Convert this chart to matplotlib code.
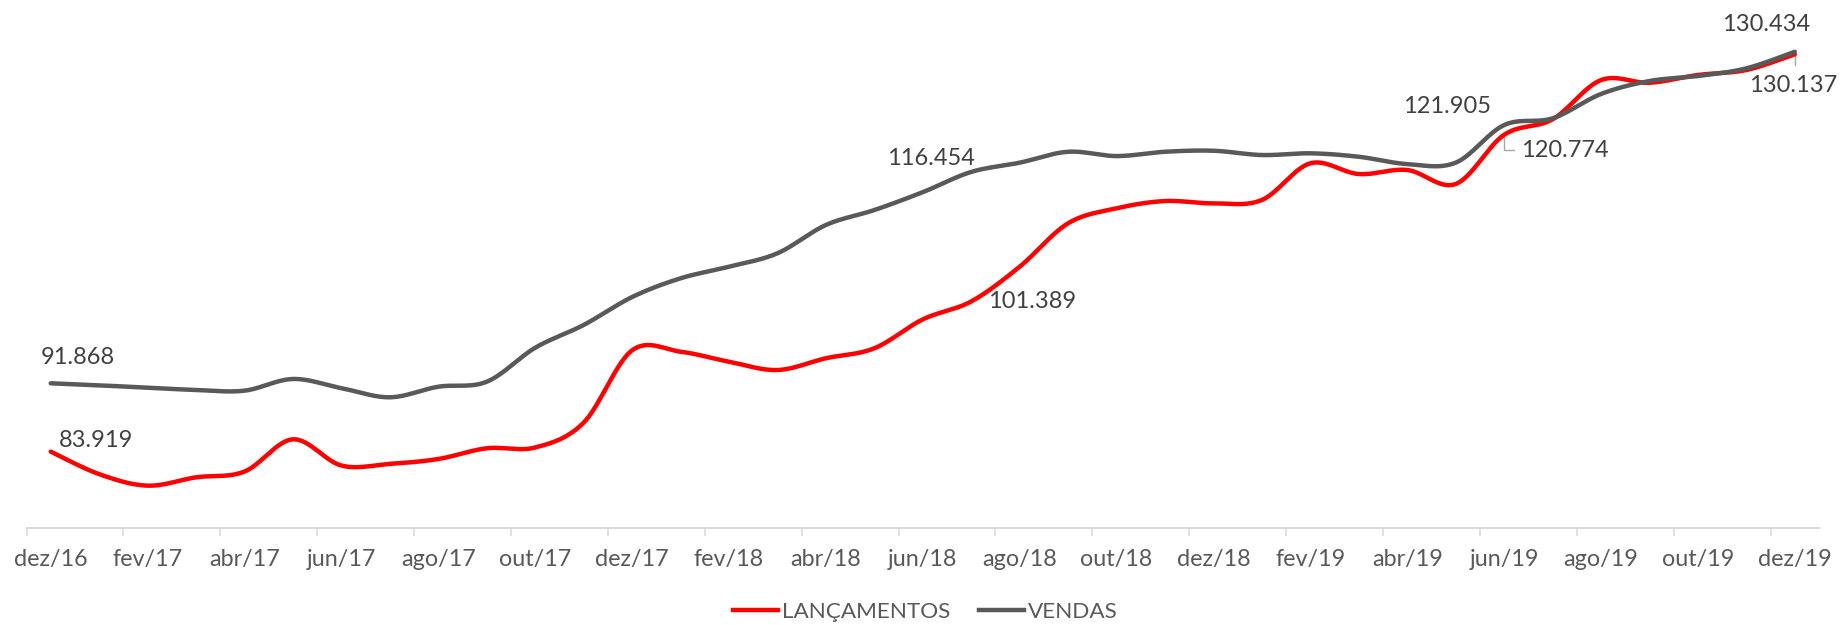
import numpy as np
import matplotlib
matplotlib.use("Agg")
import matplotlib.pyplot as plt
from matplotlib.lines import Line2D

plt.rcParams['font.family'] = ['Lato', 'DejaVu Sans']

months = ["dez/16", "jan/17", "fev/17", "mar/17", "abr/17", "mai/17", "jun/17", "jul/17",
          "ago/17", "set/17", "out/17", "nov/17", "dez/17", "jan/18", "fev/18", "mar/18",
          "abr/18", "mai/18", "jun/18", "jul/18", "ago/18", "set/18", "out/18", "nov/18",
          "dez/18", "jan/19", "fev/19", "mar/19", "abr/19", "mai/19", "jun/19", "jul/19",
          "ago/19", "set/19", "out/19", "nov/19", "dez/19"]

lancamentos = [83.919, 81.3, 79.96, 80.93, 81.6, 85.35, 82.3, 82.5, 83.06, 84.31,
               84.4, 87.29, 95.7, 95.54, 94.38, 93.41, 94.78, 95.94, 99.3, 101.389,
               105.43, 110.48, 112.22, 113.07, 112.80, 113.19, 117.46, 116.21, 116.68, 115.05,
               120.774, 122.57, 127.14, 126.83, 127.73, 128.31, 130.137]

vendas = [91.868, 91.63, 91.36, 91.09, 91.01, 92.37, 91.3, 90.24, 91.47, 92.05,
          96.0, 98.65, 101.9, 104.08, 105.43, 106.99, 110.28, 112.02, 114.1, 116.454,
          117.53, 118.80, 118.30, 118.80, 118.92, 118.42, 118.62, 118.22, 117.37, 117.53,
          121.905, 122.69, 125.52, 127.03, 127.61, 128.50, 130.434]

series_names = ["LANÇAMENTOS", "VENDAS"]
series_colors = ["#FF0000", "#595959"]

# labelled points: (series index, month index, offset px)
labels = [
    (1, 0, (27, 26)), (0, 0, (45, 11)),
    (1, 19, (-40, 13)), (0, 19, (61, 0)),
    (1, 30, (-57, 19)), (0, 30, (61, -16)),
    (1, 36, (-29, 27)), (0, 36, (-2, -31)),
]


def smooth(y, n=30):
    """Excel-like Catmull-Rom smoothing through the data points."""
    y = np.asarray(y, float)
    x = np.arange(len(y), dtype=float)
    P = np.column_stack([x, y])
    Pe = np.vstack([P[0], P, P[-1]])
    out = []
    t = np.linspace(0, 1, n, endpoint=False)[:, None]
    for i in range(len(P) - 1):
        p0, p1, p2, p3 = Pe[i], Pe[i + 1], Pe[i + 2], Pe[i + 3]
        c1 = p1 + (p2 - p0) / 6.0
        c2 = p2 - (p3 - p1) / 6.0
        seg = ((1 - t) ** 3) * p1 + 3 * ((1 - t) ** 2) * t * c1 + 3 * (1 - t) * t ** 2 * c2 + t ** 3 * p2
        out.append(seg)
    out.append(P[-1][None, :])
    out = np.vstack(out)
    return out[:, 0], out[:, 1]


fig = plt.figure(figsize=(18.41, 6.25), dpi=100)
ax = fig.add_axes([26.5 / 1841, 1 - 528.3 / 625, (1819 - 26.5) / 1841, (528.3 - 12.5) / 625])

data = [lancamentos, vendas]
for vals, name, col in zip(data, series_names, series_colors):
    xs, ys = smooth(vals)
    ax.plot(xs, ys, color=col, lw=3.2, solid_capstyle='round', label=name)

for si, mi, (dx, dy) in labels:
    val = data[si][mi]
    txt = f"{val:.3f}"
    ax.annotate(txt, xy=(mi, val), xytext=(dx, dy), textcoords='offset pixels',
                ha='center', va='center', fontsize=17, color='#404040')

# leader lines for the two lower labels at jun/19 and dez/19
lx = [30, 30, 30 + 10 / 48.45]
ly = [lancamentos[30] - 0.1, lancamentos[30] - 15 / 8.598, lancamentos[30] - 15 / 8.598]
ax.plot(lx, ly, color='#A6A6A6', lw=1.0, zorder=1)
ax.plot([36, 36], [lancamentos[36] - 0.1, lancamentos[36] - 11 / 8.598], color='#A6A6A6', lw=1.0, zorder=1)

ax.set_xlim(-0.5, len(months) - 0.5)
ax.set_ylim(75, 135)

for s in ['left', 'right', 'top']:
    ax.spines[s].set_visible(False)
ax.spines['bottom'].set_color('#D9D9D9')
ax.spines['bottom'].set_linewidth(1.4)
ax.yaxis.set_visible(False)

ax.set_xticks(np.arange(-0.5, len(months), 2))
ax.set_xticklabels([])
ax.tick_params(axis='x', which='major', length=6, width=1.1, color='#D9D9D9')
ax.set_xticks(np.arange(0, len(months), 2), minor=True)
ax.set_xticklabels(months[::2], minor=True)
ax.tick_params(axis='x', which='minor', length=0, pad=15, labelsize=16.8, labelcolor='#595959')

handles = [Line2D([], [], color=c, lw=3.2) for c in series_colors]
fig.legend(handles, series_names, loc='center', bbox_to_anchor=(0.5027, 1 - 612 / 625),
           ncol=2, frameon=False, fontsize=16.2, labelcolor='#595959',
           handlelength=2.0, handletextpad=0.15, columnspacing=1.3)

fig.savefig("out.png", dpi=100)
